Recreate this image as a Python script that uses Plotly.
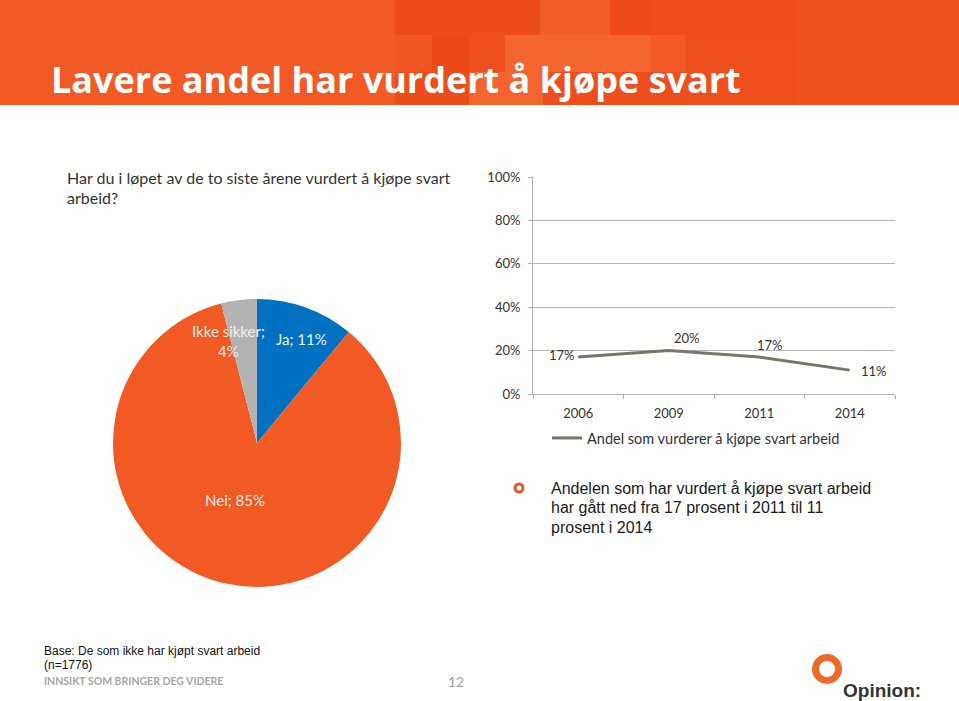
import plotly.graph_objects as go

W, H = 959, 701

# ---- data ----
pie_labels = ["Ja", "Nei", "Ikke sikker"]
pie_values = [11, 85, 4]
pie_colors = ["#0070C0", "#F15A24", "#B2B2B2"]
years = ["2006", "2009", "2011", "2014"]
share = [0.17, 0.20, 0.17, 0.11]
series_name = "Andel som vurderer å kjøpe svart arbeid"
y_ticks = [0, 0.2, 0.4, 0.6, 0.8, 1.0]
y_tick_labels = ["0%", "20%", "40%", "60%", "80%", "100%"]
title_text = "Lavere andel har vurdert å kjøpe svart"
question = ["Har du i løpet av de to siste årene vurdert å kjøpe svart", "arbeid?"]
bullet = ["Andelen som har vurdert å kjøpe svart arbeid",
          "har gått ned fra 17 prosent i 2011 til 11",
          "prosent i 2014"]
base_note = ["Base: De som ikke har kjøpt svart arbeid", "(n=1776)"]
tagline = "INNSIKT SOM BRINGER DEG VIDERE"
page_no = "12"
logo_word = "Opinion:"

GEO = "Lato, 'Open Sans', sans-serif"
ARIAL = "'Liberation Sans', Arial, sans-serif"
TITLE = "'Open Sans', Lato, sans-serif"


def px(x):
    return x / W


def py(y):
    return 1 - y / H


fig = go.Figure()

fig.add_trace(go.Pie(
    labels=pie_labels, values=pie_values, sort=False, direction="clockwise",
    rotation=0, marker=dict(colors=pie_colors, line=dict(width=0)),
    textinfo="none", hoverinfo="label+percent", showlegend=False,
    domain=dict(x=[px(113), px(401)], y=[py(587), py(299)]),
))

fig.add_trace(go.Scatter(
    x=years, y=share, mode="lines", name=series_name,
    line=dict(color="#76766A", width=3), showlegend=True, xaxis="x", yaxis="y",
))

layout_shapes = []

# header band
layout_shapes.append(dict(type="rect", xref="paper", yref="paper", layer="below",
                          x0=0, x1=1, y0=py(105), y1=1,
                          fillcolor="#F15A25", line_width=0))
header_blocks = [
    (395, 540, 0, 35, "#EE4D1B"), (540, 610, 0, 35, "#F15E2A"),
    (610, 650, 0, 35, "#EE4A1A"), (650, 800, 0, 35, "#EF4E1C"),
    (395, 432, 35, 72, "#F15722"), (432, 469, 35, 72, "#EC4A17"),
    (469, 505, 35, 72, "#EF5020"), (505, 650, 35, 72, "#F3642E"),
    (650, 685, 35, 72, "#F25B27"), (685, 795, 35, 105, "#EF4F1D"),
    (395, 469, 72, 105, "#EE4C1B"), (469, 543, 72, 105, "#F3642E"),
    (543, 685, 72, 105, "#EE4E1D"), (795, 959, 0, 105, "#EF521F"),
]
for x0, x1, y0, y1, c in header_blocks:
    layout_shapes.append(dict(type="rect", xref="paper", yref="paper", layer="below",
                              x0=px(x0), x1=px(x1), y0=py(y1), y1=py(y0),
                              fillcolor=c, line_width=0))
# bullet ring
layout_shapes.append(dict(type="circle", xref="paper", yref="paper",
                          x0=px(515), x1=px(523), y0=py(492), y1=py(484),
                          fillcolor="white", line=dict(color="#E0592A", width=3)))
# logo ring
layout_shapes.append(dict(type="circle", xref="paper", yref="paper",
                          x0=px(815.5), x1=px(838.5), y0=py(680.5), y1=py(657.5),
                          fillcolor="white", line=dict(color="#EE6A2C", width=7)))

ann = []


def text(x, y, s, size, color, font=GEO, anchor="left", valign="middle", **kw):
    ann.append(dict(xref="paper", yref="paper", x=px(x), y=py(y), text=s,
                    showarrow=False, xanchor=anchor, yanchor=valign,
                    align=anchor if anchor != "center" else "center",
                    font=dict(size=size, color=color, family=font),
                    borderpad=0, **kw))


text(50, 79, "<b>" + title_text + "</b>", 36, "white", font=TITLE)
for y, line in zip([177, 197], question):
    text(66, y, line, 16, "#333333", font=GEO)
for y, line in zip([488, 507.5, 527], bullet):
    text(550, y, line, 16, "#1a1a1a", font=ARIAL)
for y, line in zip([651, 665], base_note):
    text(43, y, line, 12, "#111111", font=ARIAL)
text(43, 681, "<b>" + tagline + "</b>", 10.5, "#A6A6A6", font=GEO)
text(456, 681, page_no, 14, "#A0A0A0", font=GEO, anchor="center")
text(842, 690, "<b>" + logo_word + "</b>", 19, "#333333", font=ARIAL)

# pie labels
text(228, 341, f"{pie_labels[2]};<br>{pie_values[2]}%", 15, "#EDEDED", anchor="center")
text(301, 339, f"{pie_labels[0]}; {pie_values[0]}%", 15, "#EDEDED", anchor="center")
text(235, 500, f"{pie_labels[1]}; {pie_values[1]}%", 15, "#EDEDED", anchor="center")

# line data labels, anchored to the data (category index on a category axis)
offsets = [(-16, 2), (18, 13), (11, 12), (24, -1)]
for i, (v, (dx, dy)) in enumerate(zip(share, offsets)):
    ann.append(dict(xref="x", yref="y", x=i, y=v, text=f"{round(v*100)}%",
                    showarrow=False, xshift=dx, yshift=dy,
                    font=dict(size=13, color="#333333", family=GEO)))

fig.update_layout(
    width=W, height=H, autosize=False,
    margin=dict(l=0, r=0, t=0, b=0, autoexpand=False),
    paper_bgcolor="white", plot_bgcolor="white",
    shapes=layout_shapes, annotations=ann,
    xaxis=dict(domain=[px(533), px(895)], type="category", range=[-0.5, 3.5],
               categoryorder="array", categoryarray=years,
               tickson="boundaries", ticks="outside", ticklen=4, tickcolor="#B0B0B0",
               showline=True, linecolor="#B0B0B0", linewidth=1, showgrid=False,
               ticklabelstandoff=7,
               tickfont=dict(size=13, color="#333333", family=GEO), zeroline=False),
    yaxis=dict(domain=[py(394), py(177)], range=[0, 1], tickvals=y_ticks,
               ticktext=y_tick_labels, ticks="outside", ticklen=4, tickcolor="#B0B0B0",
               showline=True, linecolor="#B0B0B0", linewidth=1,
               showgrid=True, gridcolor="#B5B5B5", gridwidth=1, zeroline=False,
               ticklabelstandoff=5,
               tickfont=dict(size=13, color="#333333", family=GEO)),
    legend=dict(x=px(547), y=py(438), xanchor="left", yanchor="middle",
                orientation="h", bgcolor="rgba(0,0,0,0)",
                font=dict(size=14.5, color="#333333", family=GEO),
                itemwidth=30),
)

fig.write_html("out.html", config={"displayModeBar": False},
               post_script="document.body.style.margin='0';")
